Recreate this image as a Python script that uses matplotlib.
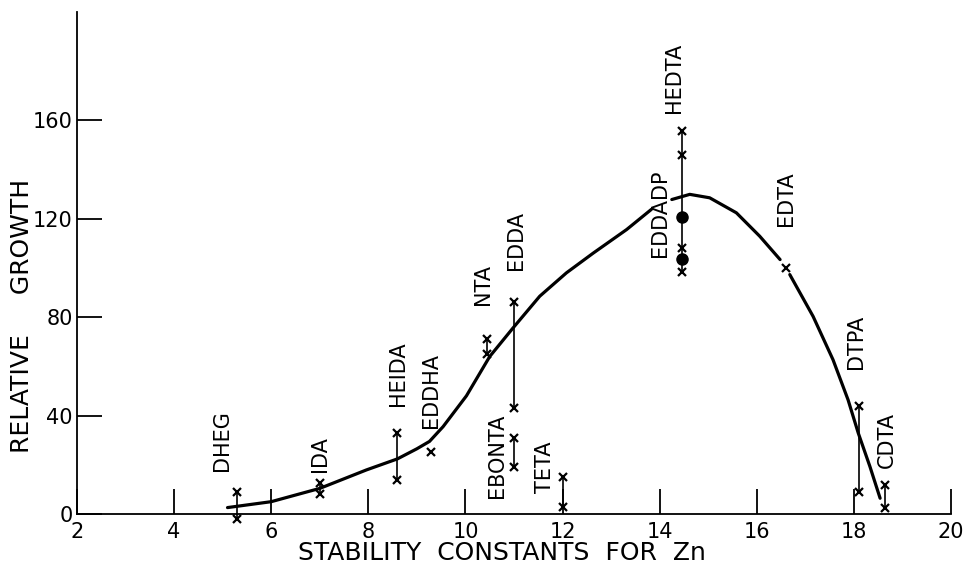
import numpy as np
import matplotlib.pyplot as plt

# growth curve, drawn in three pieces (gaps where labels sit)
curve1_x = [5.1, 6.0, 7.0, 7.96, 8.6, 9.0, 9.26, 9.54, 10.02, 10.5, 10.98, 11.53, 12.08, 12.63, 13.32, 13.83]
curve1_y = [2.6, 5.0, 10.4, 17.9, 22.4, 26.5, 29.5, 35.5, 48.0, 64.0, 75.6, 88.5, 98.0, 106.0, 115.6, 123.8]
curve2_x = [14.25, 14.62, 15.03, 15.58, 16.06, 16.48]
curve2_y = [127.8, 129.9, 128.5, 122.4, 112.9, 103.4]
curve3_x = [16.68, 17.16, 17.57, 17.88, 18.09, 18.33, 18.54]
curve3_y = [97.3, 80.3, 62.7, 46.4, 32.9, 19.3, 6.4]

# chelates measured as a range (low / high)
range_x = [5.3, 7.0, 8.6, 10.45, 11.0, 11.0, 12.0, 14.47, 18.1, 18.65]
range_lo = [-2, 8, 14, 65, 43, 19, 3, 98.5, 9, 2.4]
range_hi = [9, 12.5, 33, 71, 86, 31, 15, 155.5, 44, 11.8]

# single observations
single_x = [9.3, 16.6, 14.47, 14.47]
single_y = [25, 100, 146, 108]

# EDDADP points
dot_x = [14.47, 14.47]
dot_y = [120.5, 103.5]

# labels: name, x, y (bottom of rotated text)
label_names = ['DHEG', 'IDA', 'HEIDA', 'EDDHA', 'NTA', 'EDDA', 'EBONTA', 'TETA',
               'EDDADP', 'HEDTA', 'EDTA', 'DTPA', 'CDTA']
label_x = [4.98, 7.0, 8.62, 9.3, 10.37, 11.05, 10.64, 11.63, 14.0, 14.3, 16.6, 18.05, 18.68]
label_y = [17.5, 17, 44, 35, 85, 99, 6.5, 8.5, 104.5, 163, 117, 59, 18.7]

fig = plt.figure(figsize=(9.71, 5.73), dpi=100)
ax = fig.add_axes([0.0793, 0.103, 0.9001, 0.876])

for cx, cy in [(curve1_x, curve1_y), (curve2_x, curve2_y), (curve3_x, curve3_y)]:
    ax.plot(cx, cy, color='black', lw=2.3, solid_capstyle='round', solid_joinstyle='round')

ax.vlines(range_x, range_lo, range_hi, color='black', lw=1.2, clip_on=False)
ax.plot(range_x, range_lo, 'x', color='black', ms=6, mew=1.6, clip_on=False)
ax.plot(range_x, range_hi, 'x', color='black', ms=6, mew=1.6, clip_on=False)
ax.plot(single_x, single_y, 'x', color='black', ms=6, mew=1.6, clip_on=False)
ax.plot(dot_x, dot_y, 'o', color='black', ms=8)

for name, lx, ly in zip(label_names, label_x, label_y):
    ax.text(lx, ly, name, rotation=90, ha='center', va='bottom', fontsize=15)

ax.set_xlim(2, 20)
ax.set_ylim(0, 204)
ax.set_xticks(np.arange(2, 21, 2))
ax.set_yticks([0, 40, 80, 120, 160])
ax.spines['top'].set_visible(False)
ax.spines['right'].set_visible(False)
ax.spines['left'].set_linewidth(1.3)
ax.spines['bottom'].set_linewidth(1.3)
ax.tick_params(axis='both', direction='in', length=18, width=1.3, labelsize=15)
ax.tick_params(axis='x', pad=6)
ax.tick_params(axis='y', pad=3)

fig.text(502 / 971, 1 - 553 / 573, 'STABILITY  CONSTANTS  FOR  Zn', ha='center', va='center', fontsize=18)
fig.text(22 / 971, 1 - 316 / 573, 'RELATIVE     GROWTH', ha='center', va='center', rotation=90, fontsize=18)

fig.savefig('out.png', dpi=100, facecolor='white')
